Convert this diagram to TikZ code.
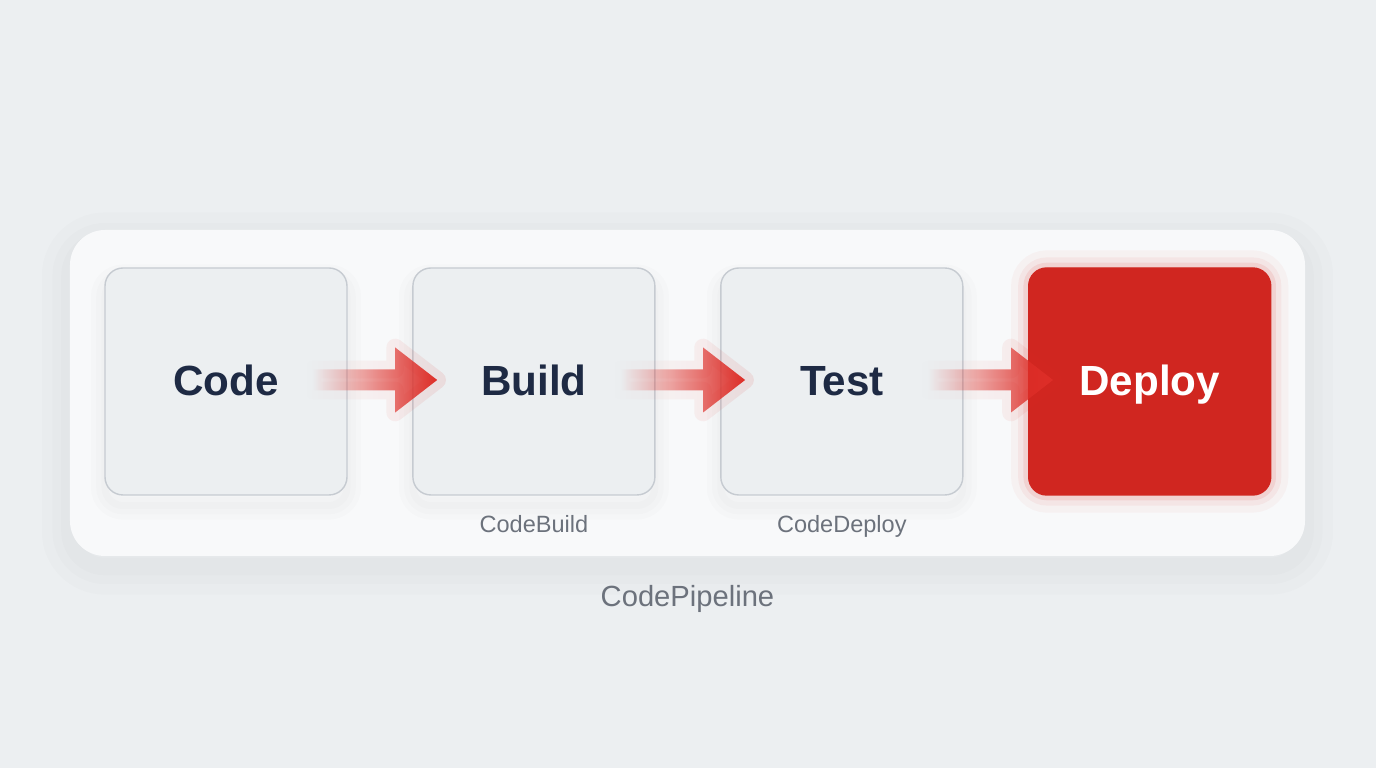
\documentclass[tikz,border=0pt]{standalone}
\usepackage{fontspec}
\setmainfont{Liberation Sans}
\usetikzlibrary{positioning, calc, fadings}
\definecolor{pagebg}{RGB}{236, 239, 241}
\definecolor{panelbg}{RGB}{248, 249, 250}
\definecolor{stagebg}{RGB}{236, 239, 241}
\definecolor{stageborder}{RGB}{198, 203, 209}
\definecolor{deployred}{RGB}{208, 38, 32}
\definecolor{arrowred}{RGB}{222, 46, 40}
\definecolor{textnavy}{RGB}{30, 42, 68}
\definecolor{textgray}{RGB}{108, 114, 124}

\tikzfading[name=flowfade, left color=transparent!100, middle color=transparent!0, right color=transparent!0]

% arrow between two stages, tip reaching into the next one
\newcommand{\flowarrow}[2]{%
  \fill [flow] let \p1=($(#1.east)+(-0.35,0.015)$), \p2=($(#2.west)+(0.25,0.015)$) in
    (\x1,\y1+0.105cm) -- (\x2-0.42cm,\y1+0.105cm) -- (\x2-0.42cm,\y1+0.325cm)
    -- (\x2,\y1) -- (\x2-0.42cm,\y1-0.325cm) -- (\x2-0.42cm,\y1-0.105cm)
    -- (\x1,\y1-0.105cm) -- cycle;}

\begin{document}
\begin{tikzpicture}[
    node distance=0.645cm,
    softshadow/.style={preaction={draw=black, opacity=0.012, line width=#1, transform canvas={yshift=-3pt}}},
    panel/.style={rectangle, fill=panelbg, minimum width=12.35cm, minimum height=3.26cm, rounded corners=0.35cm,
        softshadow=16pt, softshadow=10pt, softshadow=5pt},
    stage/.style={rectangle, draw=stageborder, fill=stagebg, minimum width=2.42cm, minimum height=2.27cm, rounded corners=0.18cm,
        font=\fontsize{12}{14}\selectfont\bfseries, text=textnavy, text height=8.2pt, text depth=0pt,
        softshadow=8pt, softshadow=5pt, softshadow=2pt},
    active/.style={rectangle, draw=deployred, fill=deployred, text=white, minimum width=2.42cm, minimum height=2.27cm,
        rounded corners=0.18cm, font=\fontsize{12}{14}\selectfont\bfseries, text height=8.2pt, text depth=0pt,
        preaction={draw=arrowred, line width=10pt, opacity=0.04},
        preaction={draw=arrowred, line width=6pt, opacity=0.06},
        preaction={draw=arrowred, line width=3pt, opacity=0.1}},
    service/.style={inner sep=0pt, anchor=north, font=\fontsize{6.7}{8}\selectfont, text=textgray},
    flow/.style={arrowred, path fading=flowfade,
        preaction={draw=arrowred, line width=5pt, opacity=0.1, line join=round, path fading=flowfade}}
]

    % Background
    \fill [pagebg] (0, 0) rectangle (13.76, 7.68);
    \useasboundingbox (0, 0) rectangle (13.76, 7.68);

    % Pipeline panel
    \node (pipe) [panel] at (6.875, 3.75) {};

    % Stages
    \node (code) [stage] at (2.26, 3.865) {Code};
    \node (build) [stage, right=of code] {Build};
    \node (test) [stage, right=of build] {Test};
    \node (deploy) [active, right=of test] {Deploy};

    % Service labels
    \node (cbuild) [service, below=0.19cm of build] {CodeBuild};
    \node (cdeploy) [service, below=0.19cm of test] {CodeDeploy};
    \node (cpipe) [service, font=\fontsize{8.3}{10}\selectfont, below=0.28cm of pipe] {CodePipeline};

    % Flow arrows
    \flowarrow{code}{build}
    \flowarrow{build}{test}
    \flowarrow{test}{deploy}

\end{tikzpicture}
\end{document}
